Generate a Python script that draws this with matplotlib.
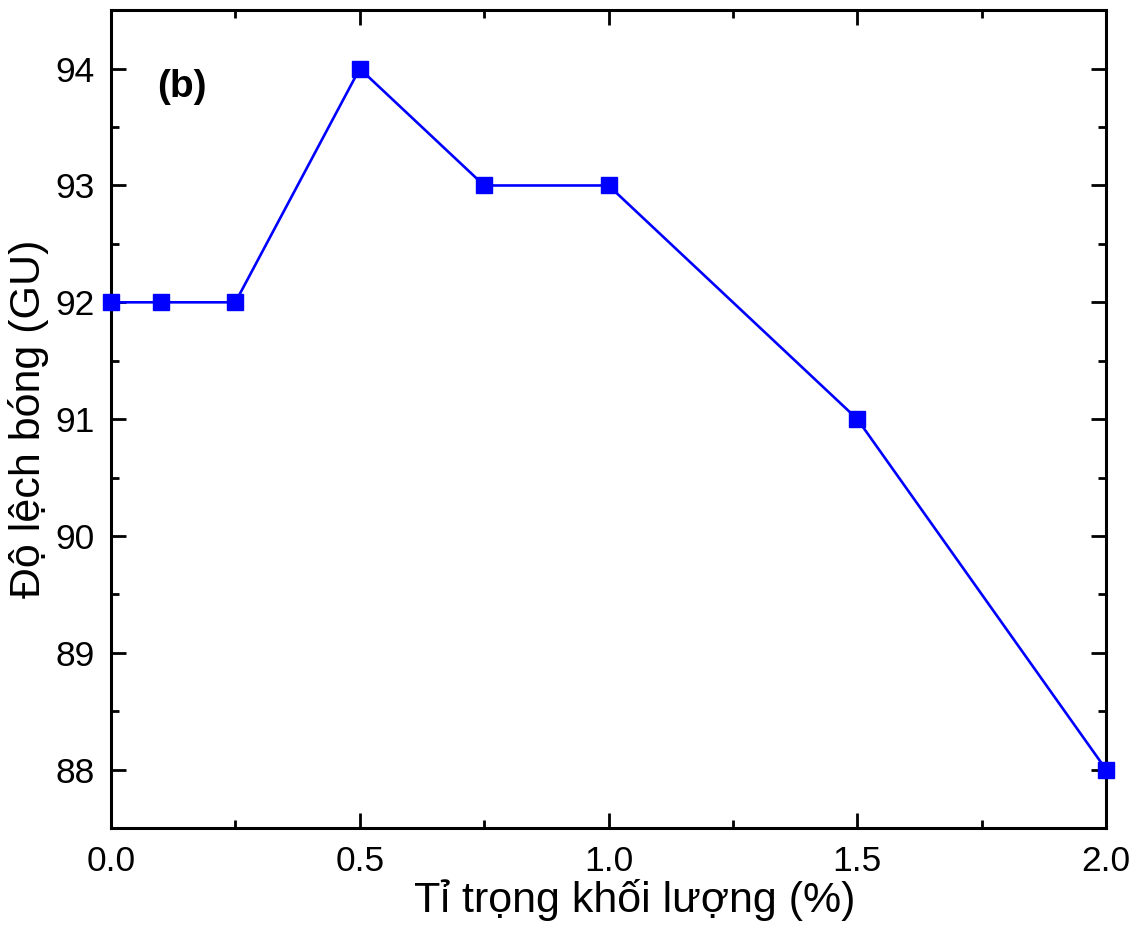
"""Recreate panel (b): gloss deviation vs mass fraction."""
import matplotlib

matplotlib.use("Agg")
import matplotlib.pyplot as plt
from matplotlib.ticker import MultipleLocator

# data
ti_trong = [0.0, 0.1, 0.25, 0.5, 0.75, 1.0, 1.5, 2.0]
do_lech_bong = [92, 92, 92, 94, 93, 93, 91, 88]

LINE_COLOR = "#0000FF"

plt.rcParams.update({
    "font.family": ["Liberation Sans", "DejaVu Sans"],
    "font.size": 25,
})

fig, ax = plt.subplots(figsize=(11.38, 9.31), dpi=100)
fig.subplots_adjust(left=0.0975, right=0.972, top=0.989, bottom=0.1106)

ax.plot(ti_trong, do_lech_bong, color=LINE_COLOR, linewidth=1.9,
        marker="s", markersize=11.5, markerfacecolor=LINE_COLOR,
        markeredgecolor=LINE_COLOR, clip_on=False, zorder=3)

ax.set_xlim(0, 2.0)
ax.set_ylim(87.5, 94.5)
ax.xaxis.set_major_locator(MultipleLocator(0.5))
ax.xaxis.set_minor_locator(MultipleLocator(0.25))
ax.yaxis.set_major_locator(MultipleLocator(1))
ax.yaxis.set_minor_locator(MultipleLocator(0.5))
ax.xaxis.set_major_formatter(matplotlib.ticker.FormatStrFormatter("%.1f"))

for s in ax.spines.values():
    s.set_linewidth(2.2)
ax.tick_params(which="both", direction="in", top=True, right=True, width=2.0)
ax.tick_params(which="major", length=11, labelsize=25.5)
ax.tick_params(axis="x", which="major", pad=12)
ax.tick_params(axis="y", which="major", pad=12)
ax.tick_params(which="minor", length=5.5)

ax.set_xlabel("Tỉ trọng khối lượng (%)", fontsize=31, labelpad=1)
ax.xaxis.label.set_x(0.526)
ax.set_ylabel("Độ lệch bóng (GU)", fontsize=31, labelpad=4.5)

ax.text(0.046, 0.928, "(b)", transform=ax.transAxes, fontsize=28,
        fontweight="bold", ha="left", va="top")

fig.savefig("out.png", dpi=100)
